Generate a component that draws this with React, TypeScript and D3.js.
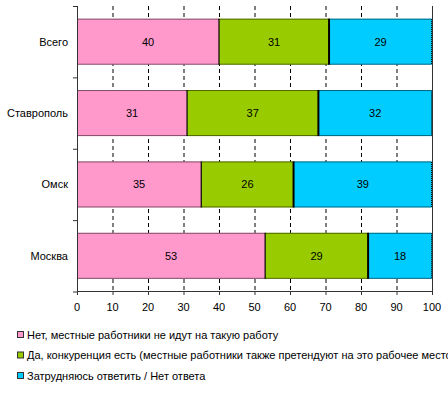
import { useMemo } from "react";
import * as d3 from "d3";

const cities = ["Всего", "Ставрополь", "Омск", "Москва"];
const noValues = [40, 31, 35, 53];
const yesValues = [31, 37, 26, 29];
const hardValues = [29, 32, 39, 18];
const seriesNames = [
  "Нет, местные работники не идут на такую работу",
  "Да, конкуренция есть (местные работники также претендуют на это рабочее место)",
  "Затрудняюсь ответить / Нет ответа",
];
const seriesColors = ["#FF99CC", "#99CC00", "#00CCFF"];
const xTicks = [0, 10, 20, 30, 40, 50, 60, 70, 80, 90, 100];

const W = 448;
const H = 395;
const FONT = "'Liberation Sans', Arial, sans-serif";

export default function App() {
  const x = useMemo(() => d3.scaleLinear().domain([0, 100]).range([77, 432]), []);
  const y = useMemo(
    () => d3.scaleBand<string>().domain(cities).range([6, 291.5]).paddingInner(0.355).paddingOuter(0.1775),
    []
  );

  const rows = cities.map((c, i) => {
    const vals = [noValues[i], yesValues[i], hardValues[i]];
    let acc = 0;
    const segs = vals.map((v, k) => {
      const s = { x0: acc, x1: acc + v, v, k };
      acc += v;
      return s;
    });
    return { c, segs };
  });

  const bh = y.bandwidth();
  const step = y.step();

  return (
    <div style={{ position: "absolute", left: 0, top: 0 }}>
      <svg width={W} height={H} style={{ display: "block", background: "#fff" }} fontFamily={FONT}>
        {/* gridlines */}
        {xTicks.slice(1, -1).map((t) => (
          <line key={t} x1={x(t) + 0.5} x2={x(t) + 0.5} y1={6} y2={291} stroke="#000" strokeDasharray="4,3" strokeWidth={1} />
        ))}
        {/* bars */}
        {rows.map((r) => {
          const y0 = y(r.c)!;
          return (
            <g key={r.c}>
              {r.segs.map((s) => (
                <rect key={s.k} x={x(s.x0)} y={y0} width={x(s.x1) - x(s.x0)} height={bh} fill={seriesColors[s.k]} />
              ))}
              <rect x={x(0) + 0.5} y={y0 + 0.5} width={x(100) - x(0) - 1} height={bh - 1} fill="none" stroke="#000" strokeDasharray="1,1" />
              {r.segs.slice(1).map((s) => (
                <line key={"s" + s.k} x1={x(s.x0)} x2={x(s.x0)} y1={y0} y2={y0 + bh} stroke="#000" strokeWidth={s.k === 2 ? 2 : 1.2} />
              ))}
              {r.segs.map((s) => (
                <text key={"t" + s.k} x={(x(s.x0) + x(s.x1)) / 2} y={y0 + bh / 2} dy="0.35em" textAnchor="middle" fontSize={11} fill="#000">
                  {s.v}
                </text>
              ))}
              <text x={68} y={y0 + bh / 2} dy="0.35em" textAnchor="end" fontSize={11} fill="#000">
                {r.c}
              </text>
            </g>
          );
        })}
        {/* axes */}
        <line x1={77.5} x2={77.5} y1={6} y2={292} stroke="#333" />
        <line x1={432.5} x2={432.5} y1={6} y2={292} stroke="#333" />
        <line x1={77} x2={433} y1={291.5} y2={291.5} stroke="#333" />
        {cities.map((c, i) => (
          <line key={c} x1={73} x2={77} y1={6 + step * (i + 1) + 0.5} y2={6 + step * (i + 1) + 0.5} stroke="#333" />
        ))}
        <line x1={73} x2={77} y1={6.5} y2={6.5} stroke="#333" />
        {xTicks.map((t) => (
          <g key={t}>
            <line x1={x(t) + 0.5} x2={x(t) + 0.5} y1={291} y2={295} stroke="#333" />
            <text x={x(t)} y={307} dy="0.35em" textAnchor="middle" fontSize={11} fill="#000">
              {t}
            </text>
          </g>
        ))}
        {/* legend */}
        {seriesNames.map((n, i) => {
          const ly = 335 + i * 20.5;
          return (
            <g key={n}>
              <rect x={17.5} y={ly - 3.5} width={6} height={6} fill={seriesColors[i]} stroke="#333" />
              <text x={27} y={ly} dy="0.35em" fontSize={11} fill="#000">
                {n}
              </text>
            </g>
          );
        })}
      </svg>
    </div>
  );
}
